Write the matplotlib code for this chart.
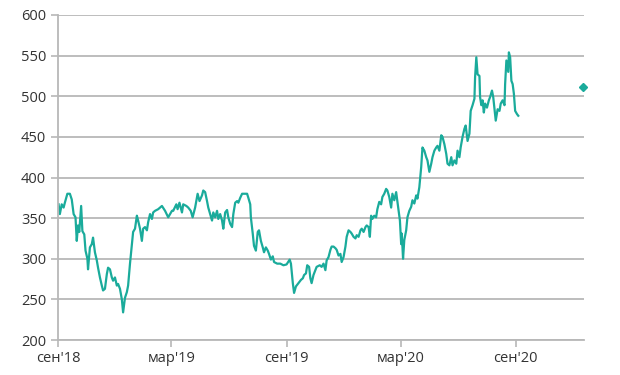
import pandas as pd
import matplotlib.pyplot as plt

# ========================
# Données
# ========================
start = pd.Timestamp("2018-09-01")

days = [
    1, 3, 6, 9, 11, 15, 19, 22, 25, 28, 30, 32, 34, 37, 39, 42, 44, 47, 48, 51,
    54, 56, 59, 62, 64, 67, 70, 72, 75, 78, 80, 83, 86, 88, 91, 94, 96, 99, 102, 104,
    107, 110, 112, 115, 118, 120, 123, 126, 128, 131, 134, 136, 139, 142, 144, 147, 150, 152, 155, 160,
    166, 171, 176, 182,
    184, 189, 191, 194, 198, 200, 205, 208, 212, 215, 219, 223, 226, 230, 232, 235, 238, 240, 243, 246,
    248, 251, 254, 256, 259, 262, 264, 267, 270, 272, 275, 278, 280, 283, 286, 288, 291, 294, 296, 299,
    302, 304, 307, 308, 311, 313, 316, 319, 321, 324, 327, 329, 332, 335, 337, 340, 343, 345, 350, 355,
    360, 365, 370,
    372, 375, 377, 380, 384, 388, 391, 393, 396, 398, 401, 403, 405, 408, 411, 413, 418, 421, 424, 427,
    429, 432, 435, 437, 440, 443, 445, 448, 451, 453, 456, 459, 461, 464, 467, 469, 472, 475, 477, 480,
    483, 485, 488, 491, 493, 496, 498, 500, 502, 505, 508, 510, 513, 516, 518, 521, 524, 526, 529, 532,
    534, 537, 540,
    541, 544, 546, 548, 549, 551, 553, 556, 558, 561, 564, 566, 569, 572, 574, 577, 580, 582, 585, 588,
    590, 593, 596, 598, 601, 604, 606, 609, 612, 614, 617, 620, 622, 625, 628, 630, 633, 636, 638, 641,
    643, 646, 649, 651, 654, 657, 659, 662, 665, 666, 668, 670, 673, 674, 676, 678, 680, 682, 685, 688,
    690, 693, 695, 697, 699, 702, 705, 707, 710, 713, 714, 716, 719, 720, 722, 724, 726, 728, 730, 733,
    735,
]

valeurs = [
    367, 355, 367, 363, 369, 380, 380, 373, 355, 351, 322, 341, 333, 365, 334, 330, 310, 300, 287, 314,
    318, 326, 308, 298, 289, 277, 267, 261, 263, 281, 289, 287, 277, 273, 277, 267, 269, 263, 250, 234,
    252, 259, 267, 294, 318, 333, 337, 353, 347, 337, 322, 337, 339, 335, 345, 355, 349, 357, 359, 361,
    365, 359, 351, 359,
    359, 367, 361, 369, 357, 367, 365, 363, 359, 351, 363, 380, 371, 378, 384, 382, 371, 363, 355, 347,
    357, 351, 359, 349, 355, 347, 337, 357, 360, 351, 343, 339, 355, 369, 371, 369, 375, 380, 380, 380,
    380, 375, 367, 351, 331, 316, 310, 333, 335, 322, 314, 308, 314, 310, 306, 299, 303, 296, 294, 294,
    292, 293, 299,
    294, 270, 258, 266, 270, 274, 276, 280, 282, 292, 290, 276, 270, 280, 286, 290, 292, 290, 294, 286,
    298, 302, 311, 315, 315, 313, 311, 304, 306, 296, 302, 315, 327, 335, 333, 331, 327, 325, 329, 327,
    335, 337, 333, 339, 341, 339, 327, 353, 349, 353, 351, 361, 370, 367, 376, 380, 386, 384, 376, 363,
    380, 372, 382,
    376, 359, 347, 318, 331, 300, 323, 335, 351, 359, 364, 372, 368, 378, 374, 388, 413, 437, 433, 425,
    421, 407, 417, 425, 433, 437, 439, 433, 452, 450, 441, 429, 417, 415, 425, 415, 421, 417, 433, 425,
    437, 450, 460, 464, 445, 454, 482, 489, 497, 523, 548, 527, 525, 499, 489, 495, 480, 491, 486, 495,
    499, 507, 499, 484, 470, 484, 482, 491, 495, 489, 515, 544, 530, 554, 548, 519, 515, 503, 482, 478,
    476,
]

# Point isolé (prévision fin 2020)
prevision_date = pd.Timestamp("2020-12-18")
prevision_val = 511

ticks = ["2018-09-01", "2019-03-01", "2019-09-01", "2020-03-01", "2020-09-01"]
tick_labels = ["сен'18", "мар'19", "сен'19", "мар'20", "сен'20"]

dates = start + pd.to_timedelta(days, unit="D")

# ========================
# Tracé
# ========================
plt.rcParams["font.family"] = ["Open Sans", "DejaVu Sans"]

couleur = "#1aab9b"
gris = "#b8b8b8"
texte = "#333333"

fig = plt.figure(figsize=(6.2, 3.75), dpi=100)
ax = fig.add_axes([0.0935, 0.0933, 0.8485, 0.8667])

ax.plot(dates, valeurs, color=couleur, linewidth=1.6)
ax.plot([prevision_date], [prevision_val], marker="D", markersize=4,
        color=couleur, linestyle="none", clip_on=False)

ax.set_xlim(start, pd.Timestamp("2020-12-19"))
ax.set_ylim(200, 600)
ax.set_yticks(range(200, 601, 50))
ax.set_xticks(pd.to_datetime(ticks))
ax.set_xticklabels(tick_labels)

ax.grid(axis="y", color=gris, linewidth=1.3)
ax.set_axisbelow(True)
for s in ["top", "right"]:
    ax.spines[s].set_visible(False)
ax.spines["left"].set_color(gris)
ax.spines["left"].set_linewidth(1.3)
ax.spines["bottom"].set_color(gris)
ax.spines["bottom"].set_linewidth(1.3)

ax.tick_params(axis="both", colors=gris, width=1.2, length=5, labelcolor=texte,
               labelsize=10.5)
ax.tick_params(axis="x", pad=3)

plt.savefig("out.png", dpi=100)
